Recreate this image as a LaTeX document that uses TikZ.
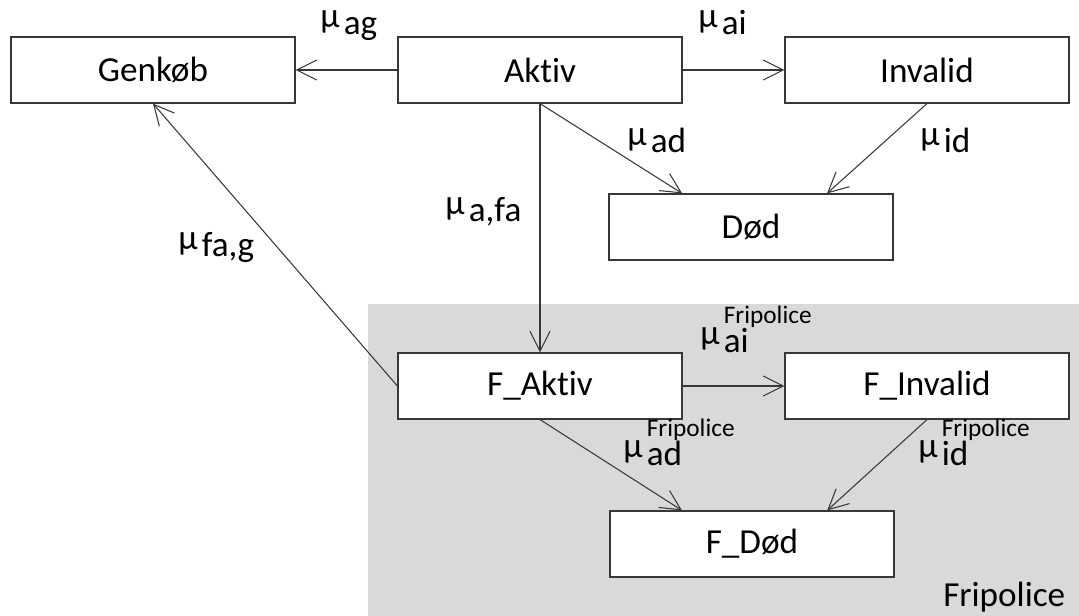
\documentclass[tikz,border=0pt]{standalone}
\usepackage{fontspec}
\setmainfont{Carlito}[Ligatures=NoCommon]
\usetikzlibrary{arrows.meta}

\definecolor{fribg}{RGB}{217,217,217}
\definecolor{linje}{RGB}{55,55,55}
\newcommand{\intens}[1]{\raisebox{0.2em}{μ}\hspace{0.12em}#1}
\newcommand{\intensF}[1]{\raisebox{0.2em}{μ}\hspace{0.12em}\rlap{\raisebox{0.82em}{\fontsize{18}{21}\selectfont Fripolice}}#1}

\begin{document}
\begin{tikzpicture}[x=0.025cm,y=-0.025cm,
  font=\fontsize{25}{30}\selectfont,
  tilstand/.style={draw=linje,line width=0.8pt,fill=white,minimum width=7.1cm,minimum height=1.65cm},
  pil/.style={draw=linje,line width=0.75pt,-{Straight Barb[length=5mm,width=5mm]}},
  rate/.style={anchor=base west,inner sep=0pt}]
  \useasboundingbox (0,0) rectangle (1079,616);

  % baggrund
  \fill[fribg] (368,304) rectangle (1079,616);
  \node[anchor=base west,inner sep=0pt] (fri) at (943,606) {Fripolice};

  % tilstande
  \node[tilstand] (genkob) at (153,70) {Genkøb};
  \node[tilstand] (aktiv) at (540,70) {Aktiv};
  \node[tilstand] (invalid) at (927,70) {Invalid};
  \node[tilstand] (dod) at (751,227) {Død};
  \node[tilstand] (faktiv) at (540,386) {F\_Aktiv};
  \node[tilstand] (finvalid) at (927,386) {F\_Invalid};
  \node[tilstand] (fdod) at (752,544) {F\_Død};

  % overgange
  \draw[pil] (aktiv) -- (genkob);
  \draw[pil] (aktiv) -- (invalid);
  \draw[pil] (aktiv.south) -- ([xshift=-1.72cm]dod.north);
  \draw[pil] (invalid.south) -- ([xshift=1.9cm]dod.north);
  \draw[pil] (aktiv.south) -- (faktiv.north);
  \draw[pil] (faktiv.west) -- (genkob.south);
  \draw[pil] (faktiv) -- (finvalid);
  \draw[pil] (faktiv.south) -- ([xshift=-1.75cm]fdod.north);
  \draw[pil] (finvalid.south) -- ([xshift=1.88cm]fdod.north);

  % intensiteter
  \node[rate] (mag) at (320,35) {\intens{ag}};
  \node[rate] (mai) at (698,35) {\intens{ai}};
  \node[rate] (mad) at (627,153) {\intens{ad}};
  \node[rate] (mid) at (920,153) {\intens{id}};
  \node[rate] (mafa) at (445,222) {\intens{a,fa}};
  \node[rate] (mfag) at (178,257) {\intens{fa,g}};
  \node[rate] (fmai) at (700,352) {\intensF{ai}};
  \node[rate] (fmad) at (623,465) {\intensF{ad}};
  \node[rate] (fmid) at (918,465) {\intensF{id}};
\end{tikzpicture}
\end{document}
